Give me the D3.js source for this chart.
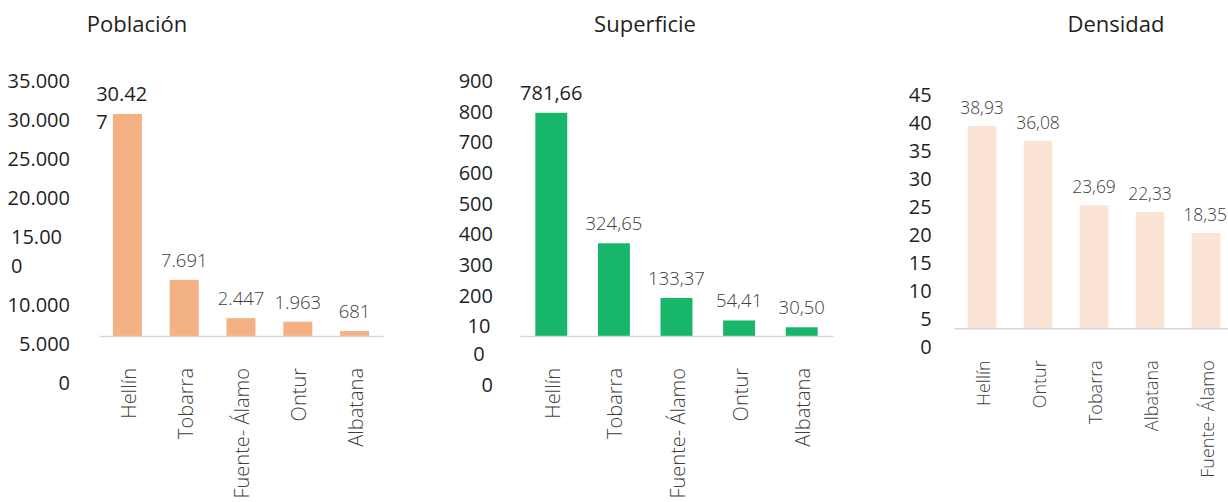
<!DOCTYPE html>
<html>
<head>
<meta charset="utf-8">
<script src="https://cdn.jsdelivr.net/npm/d3@7"></script>
<style>
  html, body { margin: 0; padding: 0; background: #fff; }
  svg { display: block; font-family: "Open Sans", "Noto Sans", sans-serif; }
</style>
</head>
<body>
<svg id="chart" width="1228" height="502"></svg>
<script>
// ---- data ----
const popTitle = "Población";
const popCats = ["Hellín", "Tobarra", "Fuente- Álamo", "Ontur", "Albatana"];
const popValues = [30427, 7691, 2447, 1963, 681];
const popTicks = [35000, 30000, 25000, 20000, 15000, 10000, 5000, 0];

const supTitle = "Superficie";
const supCats = ["Hellín", "Tobarra", "Fuente- Álamo", "Ontur", "Albatana"];
const supValues = [781.66, 324.65, 133.37, 54.41, 30.50];
const supTicks = [900, 800, 700, 600, 500, 400, 300, 200, 100, 0];

const denTitle = "Densidad";
const denCats = ["Hellín", "Ontur", "Tobarra", "Albatana", "Fuente- Álamo"];
const denValues = [38.93, 36.08, 23.69, 22.33, 18.35];
const denTicks = [45, 40, 35, 30, 25, 20, 15, 10, 5, 0];

const es = d3.formatLocale({ decimal: ",", thousands: ".", grouping: [3], currency: ["", " €"] });

const panels = [
  { title: popTitle, cats: popCats, values: popValues, ticks: popTicks,
    fmt: es.format(",d"), color: "#f4b183",
    x0: 99, x1: 383, base: 336, top: 80.6, max: 35000,
    tickRight: 70, tickY0: 81, tickStep: 39, wrapTicks: [15000], wrapTickAnchor: "start", wrapTickX: 11,
    wrapValueIdx: [0], strongIdx: [0], valOffset: 13, valSize: 18.5, catSize: 20, titleX: 137 },
  { title: supTitle, cats: supCats, values: supValues, ticks: supTicks,
    fmt: es.format(",.2f"), color: "#17b66a",
    x0: 520, x1: 833, base: 336, top: 79, max: 900,
    tickRight: 493, tickY0: 80.7, tickStep: 30.66, wrapTicks: [100], wrapTickAnchor: "middle", wrapTickX: 479,
    wrapValueIdx: [], strongIdx: [0], valOffset: 13, valSize: 18.5, catSize: 20, titleX: 645 },
  { title: denTitle, cats: denCats, values: denValues, ticks: denTicks,
    fmt: es.format(",.2f"), color: "#fbe3d5",
    x0: 954, x1: 1234, base: 328.3, top: 94.4, max: 45,
    tickRight: 931.7, tickY0: 94.3, tickStep: 28.1, wrapTicks: [], wrapTickAnchor: "start", wrapTickX: 0,
    wrapValueIdx: [], strongIdx: [], valOffset: 12, valSize: 17.5, catSize: 18, titleX: 1116 }
];

const tickFmt = es.format(",d");
const wrapLineH = 28.3;
const W = 1228;
const svg = d3.select("#chart");

panels.forEach(p => {
  const g = svg.append("g");
  const x = d3.scaleBand().domain(p.cats).range([p.x0, p.x1]).paddingInner(0.49).paddingOuter(0.245);
  const y = d3.scaleLinear().domain([0, p.max]).range([p.base, p.top]);

  // title
  g.append("text").attr("x", p.titleX).attr("y", 24).attr("dy", "0.36em")
    .attr("text-anchor", "middle").attr("font-size", 22).attr("fill", "#1f1f1f")
    .text(p.title);

  // bars
  g.selectAll("rect.bar").data(p.values).join("rect")
    .attr("class", "bar")
    .attr("x", (d, i) => x(p.cats[i]))
    .attr("width", x.bandwidth())
    .attr("y", d => y(d))
    .attr("height", d => p.base - y(d))
    .attr("fill", p.color);

  // baseline axis
  const ax = g.append("g").attr("transform", `translate(0,${p.base})`)
    .call(d3.axisBottom(x).tickSize(0).tickSizeOuter(0).tickFormat(""));
  ax.select(".domain").attr("stroke", "#d9d9d9").attr("stroke-width", 1.5);

  // tick labels (positioned line by line, wrapped labels take two lines)
  const slot = d3.scaleLinear().domain([0, 1]).range([p.tickY0, p.tickY0 + p.tickStep]);
  let extra = 0;
  p.ticks.forEach((t, i) => {
    const s = tickFmt(t);
    const cy = slot(i) + extra * wrapLineH;
    if (p.wrapTicks.includes(t)) {
      const lines = [s.slice(0, -1), s.slice(-1)];
      const txt = g.append("text").attr("font-size", 20).attr("fill", "#1f1f1f")
        .attr("text-anchor", p.wrapTickAnchor);
      lines.forEach((l, k) => {
        txt.append("tspan").attr("x", p.wrapTickX).attr("y", cy + k * wrapLineH).attr("dy", "0.36em").text(l);
      });
      extra += 1;
    } else {
      g.append("text").attr("x", p.tickRight).attr("y", cy).attr("dy", "0.36em")
        .attr("text-anchor", "end").attr("font-size", 20).attr("fill", "#1f1f1f").text(s);
    }
  });

  // value labels
  p.values.forEach((v, i) => {
    const cx = x(p.cats[i]) + x.bandwidth() / 2;
    const strong = p.strongIdx.includes(i);
    const s = p.fmt(v);
    const t = g.append("text")
      .attr("font-size", strong ? 20 : p.valSize)
      .attr("font-weight", strong ? 400 : 300)
      .attr("fill", strong ? "#1f1f1f" : "#404040");
    if (p.wrapValueIdx.includes(i)) {
      t.text(s);
      const w = t.node().getComputedTextLength();
      t.text(null).attr("text-anchor", "start");
      [s.slice(0, -1), s.slice(-1)].forEach((l, k) => {
        t.append("tspan").attr("x", cx - w / 2).attr("y", y(v) - p.valOffset + k * 27.7).text(l);
      });
    } else {
      t.attr("x", cx).attr("y", y(v) - p.valOffset).attr("text-anchor", "middle").text(s);
      const w = t.node().getComputedTextLength();
      if (cx + w / 2 > W - 1) t.attr("x", W - 1 - w / 2);
    }
  });

  // category labels (rotated)
  p.cats.forEach(c => {
    const cx = x(c) + x.bandwidth() / 2;
    const yEnd = p.base + 32;
    g.append("text")
      .attr("transform", `translate(${cx},${yEnd}) rotate(-90)`)
      .attr("dy", "0.42em")
      .attr("text-anchor", "end")
      .attr("font-size", p.catSize).attr("font-weight", 300).attr("fill", "#404040")
      .text(c);
  });
});
</script>
</body>
</html>
